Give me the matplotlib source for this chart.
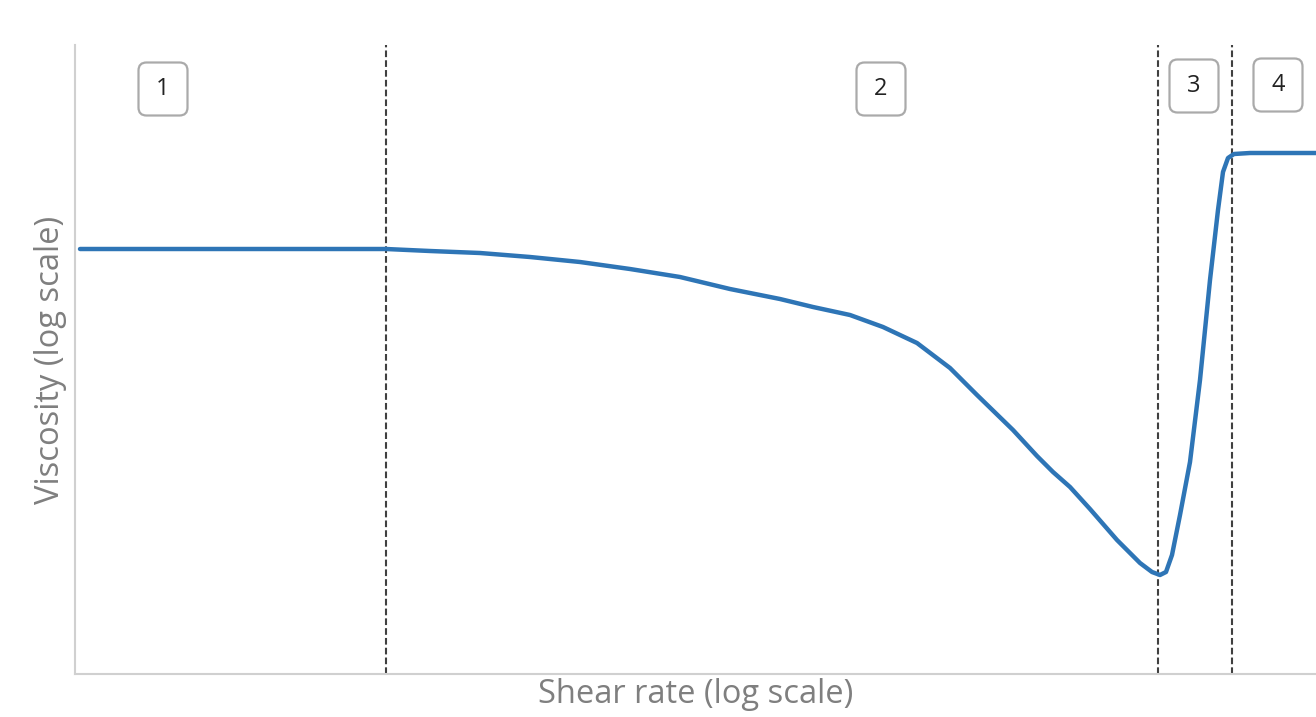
import matplotlib
matplotlib.use("Agg")
import matplotlib.pyplot as plt
from matplotlib.patches import FancyBboxPatch

# Flow curve: shear rate position (log axis, arbitrary units) vs viscosity level
shear_rate = [5, 311, 355, 405, 455, 505, 555, 605, 655, 705, 738, 775, 808, 842,
              875, 902, 938, 962, 978, 995, 1015, 1042, 1065, 1077, 1085, 1091,
              1097, 1105, 1115, 1125, 1135, 1143, 1148, 1153, 1159, 1175, 1241]
viscosity = [425, 425, 423, 421, 417, 412, 405, 397, 385, 375, 367, 359, 347, 331,
             306, 279, 244, 218, 202, 187, 165, 134, 111, 102, 99, 102, 119, 159,
             212, 294, 394, 464, 502, 516, 520, 521, 521]

# Region boundaries and region labels
boundaries = [311, 1083, 1157]
region_labels = ["1", "2", "3", "4"]
label_x = [88, 806, 1119, 1203]
label_y = [585, 585, 588, 589]

W, H = 1316, 717
fig = plt.figure(figsize=(W / 100, H / 100), dpi=100)
ax = fig.add_axes([75 / W, (717 - 674) / H, (1316 - 75) / W, (674 - 45) / H])
ax.set_xlim(0, 1241)
ax.set_ylim(0, 629)

for side in ("top", "right"):
    ax.spines[side].set_visible(False)
for side in ("left", "bottom"):
    ax.spines[side].set_color("#d0d0d0")
    ax.spines[side].set_linewidth(1.5)
ax.set_xticks([])
ax.set_yticks([])

for b in boundaries:
    ax.axvline(b, color="#404040", lw=1.5, ls=(0, (3.2, 1.5)), zorder=2)

ax.plot(shear_rate, viscosity, color="#2e75b6", lw=3.2, solid_capstyle="round",
        solid_joinstyle="round", zorder=3)

bw, bh = 49, 53
for lab, cx, cy in zip(region_labels, label_x, label_y):
    box = FancyBboxPatch((cx - bw / 2, cy - bh / 2), bw, bh,
                         boxstyle="round,pad=0,rounding_size=8",
                         fc="white", ec="#aaaaaa", lw=1.6, zorder=4,
                         clip_on=False)
    ax.add_patch(box)
    ax.text(cx, cy, lab, ha="center", va="center", fontsize=17,
            family="Open Sans", color="#222222", zorder=5)

ax.set_xlabel("Shear rate (log scale)", family="Open Sans", fontsize=23.5,
              color="#7f7f7f", labelpad=3)
ax.set_ylabel("Viscosity (log scale)", family="Open Sans", fontsize=23.5,
              color="#7f7f7f", labelpad=6)

fig.savefig("out.png", dpi=100, facecolor="white")
